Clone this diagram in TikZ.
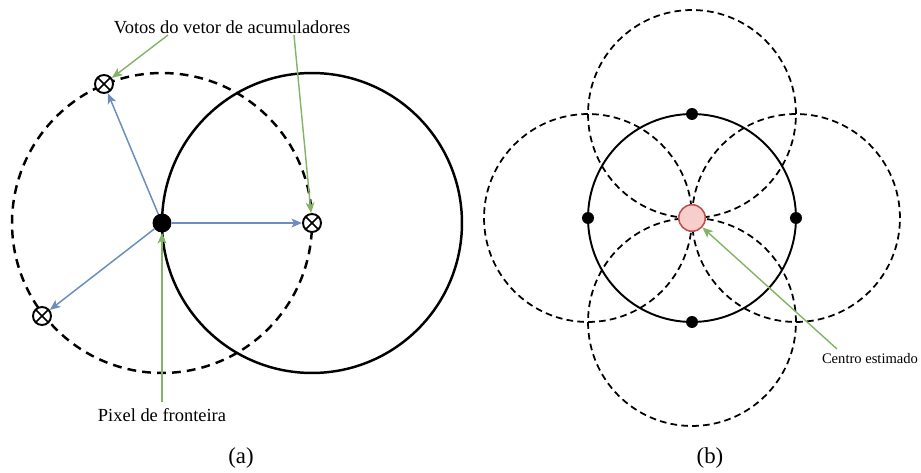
\documentclass[tikz,border=0pt]{standalone}
\usepackage{fontspec}
\setmainfont{Liberation Serif}
\usetikzlibrary{arrows.meta}
\definecolor{voteblue}{HTML}{6C8EBF}
\definecolor{notegreen}{HTML}{82B366}
\definecolor{estfill}{HTML}{F8CECC}
\definecolor{estdraw}{HTML}{B85450}

\begin{document}
\begin{tikzpicture}[x=0.02cm, y=-0.02cm,
  every node/.style={font=\fontsize{10.5}{12}\selectfont},
  bigdot/.style={circle, fill=black, inner sep=0pt, minimum size=0.38cm},
  smalldot/.style={circle, fill=black, inner sep=0pt, minimum size=0.24cm},
  vote/.style={circle, draw, fill=white, line width=1.1pt, inner sep=0pt, minimum size=0.36cm,
    path picture={\draw[line width=1pt] (path picture bounding box.north west) -- (path picture bounding box.south east)
      (path picture bounding box.north east) -- (path picture bounding box.south west);}},
  estimate/.style={circle, draw=estdraw, fill=estfill, line width=0.9pt, inner sep=0pt, minimum size=0.53cm},
  bluearrow/.style={draw=voteblue, line width=0.85pt, -{Stealth[length=6pt,width=5pt,inset=1.5pt]}},
  greenarrow/.style={draw=notegreen, line width=0.8pt, -{Stealth[length=6pt,width=5pt,inset=1.5pt]}},
  thickline/.style={line width=1.4pt},
  thickdash/.style={line width=1.4pt, dash pattern=on 5pt off 3.5pt},
  thinline/.style={line width=1.1pt},
  thindash/.style={line width=1pt, dash pattern=on 3.8pt off 2.4pt}]
  \useasboundingbox (0,0) rectangle (921,473);
  % (a)
  \coordinate (c1) at (162,223);
  \coordinate (c2) at (312,223);
  \draw[thickdash] (c1) circle [radius=3cm];
  \draw[thickline] (c2) circle [radius=3cm];
  \node[bigdot] (pixel) at (c1) {};
  \node[vote] (m1) at (104,84) {};
  \node[vote] (m2) at (c2) {};
  \node[vote] (m3) at (42,316) {};
  \draw[bluearrow] (pixel) -- (m1);
  \draw[bluearrow] (pixel) -- (m2);
  \draw[bluearrow] (pixel) -- (m3);
  \node (votos) at (232,27) {Votos do vetor de acumuladores};
  \coordinate (v1) at (168,35);
  \coordinate (v2) at (294,35);
  \draw[greenarrow] (v1) -- (m1);
  \draw[greenarrow] (v2) -- (m2);
  \node (fronteira) at (162,415) {Pixel de fronteira};
  \draw[greenarrow] (fronteira) -- (pixel);
  \node[font=\fontsize{13}{15}\selectfont] (a) at (241,458) {(a)};
  % (b)
  \coordinate (ce) at (692,218);
  \coordinate (n) at (692,114);
  \coordinate (w) at (588,218);
  \coordinate (e) at (796,218);
  \coordinate (s) at (692,322);
  \foreach \p in {n,w,e,s}
    \draw[thindash] (\p) circle [radius=2.08cm];
  \draw[thinline] (ce) circle [radius=2.08cm];
  \foreach \p in {n,w,e,s}
    \node[smalldot] (dot-\p) at (\p) {};
  \node[estimate] (est) at (ce) {};
  \node[font=\fontsize{8.3}{10}\selectfont] (centro) at (870,359) {Centro estimado};
  \coordinate (ct) at (837,349);
  \draw[greenarrow] (ct) -- (est);
  \node[font=\fontsize{13}{15}\selectfont] (b) at (710,458) {(b)};
\end{tikzpicture}
\end{document}
